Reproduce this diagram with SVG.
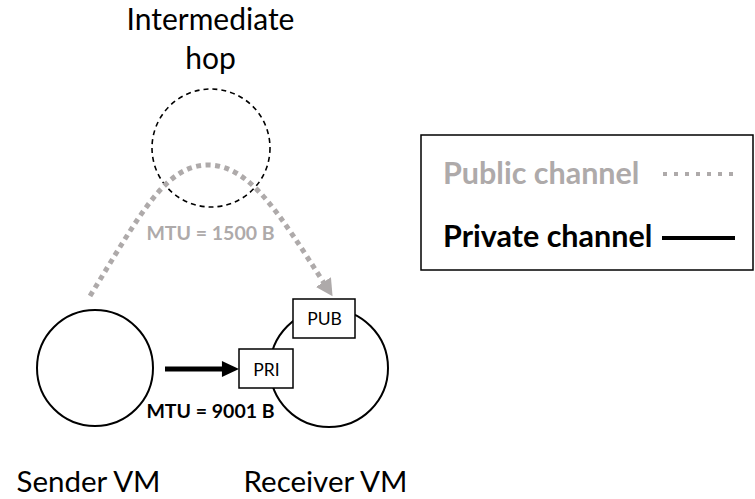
<svg xmlns="http://www.w3.org/2000/svg" width="755" height="499" viewBox="0 0 755 499">
  <style>
    text { font-family: Lato, "Liberation Sans", sans-serif; }
    .big { font-size: 30px; fill: #000; text-anchor: middle; }
    .vmlbl { font-size: 29.5px; fill: #000; text-anchor: middle; }
    .box { fill: #fff; stroke: #000; stroke-width: 1.5; }
    .boxlbl { font-size: 17.5px; fill: #000; text-anchor: middle; }
    .vm { fill: #fff; stroke: #000; stroke-width: 2; }
    .mtu { font-size: 19.5px; font-weight: bold; text-anchor: middle; }
    .pub { stroke: #AEAAAA; fill: none; stroke-width: 5; stroke-dasharray: 5 4.5; }
    .leg { font-size: 30.5px; font-weight: bold; }
  </style>
  <defs>
    <marker id="grayHead" markerUnits="userSpaceOnUse" markerWidth="18" markerHeight="18" refX="1" refY="8" orient="auto" viewBox="0 0 16 16">
      <path d="M0,0 L15,8 L0,16 Z" fill="#AEAAAA"/>
    </marker>
    <marker id="blackHead" markerUnits="userSpaceOnUse" markerWidth="18" markerHeight="16" refX="1" refY="7.5" orient="auto" viewBox="0 0 16 15">
      <path d="M0,0 L16,7.5 L0,15 Z" fill="#000"/>
    </marker>
  </defs>

  <g id="hop">
    <circle cx="211" cy="148" r="59" fill="none" stroke="#000" stroke-width="1.6" stroke-dasharray="5 4"/>
    <text class="big" x="210.5" y="30">Intermediate</text>
    <text class="big" x="210.5" y="69">hop</text>
  </g>

  <g id="sender">
    <circle class="vm" cx="95" cy="368" r="58"/>
    <text class="vmlbl" x="88.5" y="492">Sender VM</text>
  </g>

  <g id="receiver">
    <circle class="vm" cx="329" cy="368" r="59"/>
    <text class="vmlbl" x="325.5" y="492">Receiver VM</text>
  </g>

  <g id="pub-port">
    <rect class="box" x="293" y="299" width="62" height="39"/>
    <text class="boxlbl" x="324.5" y="325">PUB</text>
  </g>

  <g id="pri-port">
    <rect class="box" x="239" y="349" width="54" height="39"/>
    <text class="boxlbl" x="266.5" y="376">PRI</text>
  </g>

  <g id="connectors">
    <path class="pub" d="M90,296 C140,215 165,165 208,165 C250,165 280,215 324,283" marker-end="url(#grayHead)"/>
    <line x1="165" y1="369" x2="223" y2="369" stroke="#000" stroke-width="5" marker-end="url(#blackHead)"/>
    <text class="mtu" x="210.5" y="240" fill="#AEAAAA">MTU = 1500 B</text>
    <text class="mtu" x="210.5" y="418" fill="#000">MTU = 9001 B</text>
  </g>

  <g id="legend">
    <rect x="421" y="135" width="332" height="135" fill="#fff" stroke="#000" stroke-width="1.5"/>
    <text class="leg" x="443" y="184" fill="#AEAAAA">Public channel</text>
    <line x1="663" y1="174" x2="737" y2="174" stroke="#AEAAAA" stroke-width="4" stroke-dasharray="4 7"/>
    <text class="leg" x="443" y="247" fill="#000">Private channel</text>
    <line x1="662" y1="238" x2="735" y2="238" stroke="#000" stroke-width="4"/>
  </g>
</svg>
